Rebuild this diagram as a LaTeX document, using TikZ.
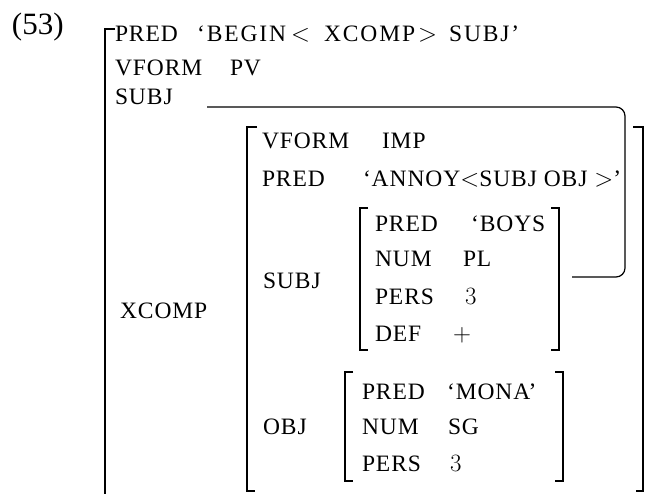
\documentclass[tikz,border=0pt]{standalone}
\usepackage{fontspec}
\setmainfont[LetterSpace=4]{Liberation Serif}
\newfontfamily\numfont{Liberation Serif}
\begin{document}
\begin{tikzpicture}[x=1pt,y=-1pt,
  txt/.style={anchor=base west,inner sep=0pt,outer sep=0pt,font=\fontsize{23.5}{26}\selectfont},
  wide/.style={txt,font=\fontsize{23.5}{26}\selectfont\addfontfeatures{LetterSpace=8}},
  big/.style={anchor=base west,inner sep=0pt,outer sep=0pt,font=\numfont\fontsize{31}{36}\selectfont},
  brk/.style={line width=1.5pt,line cap=butt},
  link/.style={line width=1.2pt,rounded corners=9pt}]
\useasboundingbox (0,0) rectangle (660,493);
% number
\node[big] (num) at (12,34) {(53)};
% outer bracket
\draw[brk] (115,29) -- (105,29) -- (105,496);
% top rows
\node[txt] (p1) at (115,41) {PRED};
\node[wide] (p1v) at (197,41) {‘\hspace{2pt}BEGIN\hspace{5pt}$<$\hspace{14pt}XCOMP\hspace{3pt}$>$\hspace{12pt}SUBJ’};
\node[txt] (v1) at (115,75) {VFORM};
\node[txt] (v1v) at (230,75) {PV};
\node[txt] (s1) at (115,104) {SUBJ};
\node[txt] (x1) at (120,318) {XCOMP};
% XCOMP brackets
\draw[brk] (257,127) -- (247,127) -- (247,491) -- (255,491);
\draw[brk] (633,127) -- (643,127) -- (643,491) -- (636,491);
\node[txt] (v2) at (262,148) {VFORM};
\node[txt] (v2v) at (382,148) {IMP};
\node[txt] (p2) at (262,186) {PRED};
\node[txt] (p2v) at (363,186) {‘ANNOY$<$SUBJ OBJ $>$’};
\node[txt] (s2) at (263,288) {SUBJ};
\node[txt] (o2) at (263,434) {OBJ};
% SUBJ f-structure
\draw[brk] (368,208) -- (360,208) -- (360,350) -- (368,350);
\draw[brk] (551,208) -- (559,208) -- (559,350) -- (551,350);
\node[txt] (p3) at (375,231) {PRED};
\node[txt] (p3v) at (471,231) {‘BOYS};
\node[txt] (n3) at (375,266) {NUM};
\node[txt] (n3v) at (463,266) {PL};
\node[txt] (r3) at (375,304) {PERS};
\node[txt] (r3v) at (465,304) {\fontsize{25}{28}\selectfont$3$};
\node[txt] (d3) at (375,341) {DEF};
\node[txt] (d3v) at (453,341) {\fontsize{25}{28}\selectfont$+$};
% OBJ f-structure
\draw[brk] (353,372) -- (345,372) -- (345,481) -- (353,481);
\draw[brk] (555,372) -- (563,372) -- (563,481) -- (555,481);
\node[txt] (p4) at (362,399) {PRED};
\node[txt] (p4v) at (447,399) {‘MONA’};
\node[txt] (n4) at (362,434) {NUM};
\node[txt] (n4v) at (448,434) {SG};
\node[txt] (r4) at (362,471) {PERS};
\node[txt] (r4v) at (450,471) {\fontsize{25}{28}\selectfont$3$};
% structure-sharing link
\coordinate (la) at (207,107);
\coordinate (lb) at (625,107);
\coordinate (lc) at (625,277);
\coordinate (ld) at (572,277);
\draw[link] (la) -- (lb) -- (lc) -- (ld);
\end{tikzpicture}
\end{document}
